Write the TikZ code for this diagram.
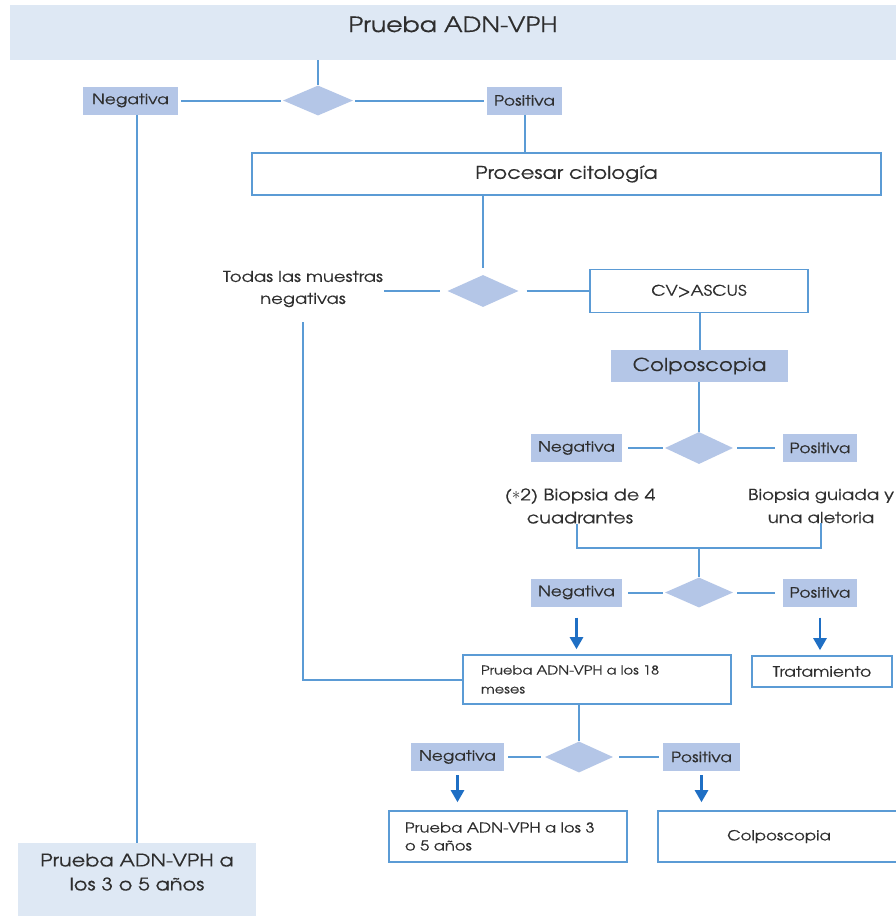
\documentclass[tikz,border=0pt]{standalone}
\usepackage{fontspec}
\setmainfont[FakeStretch=1.2,FakeBold=0.3]{TeX Gyre Adventor}
\usetikzlibrary{shapes.geometric,arrows.meta}
\definecolor{paleblue}{HTML}{DEE8F4}
\definecolor{lblblue}{HTML}{B4C6E7}
\definecolor{lineblue}{HTML}{5B9BD5}
\definecolor{arrblue}{HTML}{1F6FC4}
\definecolor{txt}{HTML}{2E2E2E}
\tikzset{
  lbl/.style={fill=lblblue, minimum height=28pt, inner sep=0pt, text=txt, font=\fontsize{14.2}{16}\selectfont},
  box/.style={draw=lineblue, line width=1.6pt, fill=white, inner sep=0pt, text=txt},
  dia/.style={diamond, fill=lblblue, inner sep=0pt},
  conn/.style={draw=lineblue, line width=2pt},
  arr/.style={draw=arrblue, line width=2.6pt, -{Triangle[width=13pt,length=12pt]}},
  plain/.style={text=txt, align=center, inner sep=0pt}
}
\begin{document}
\begin{tikzpicture}[x=1pt,y=-1pt]
\useasboundingbox (0,0) rectangle (896,916);
\clip (0,0) rectangle (896,916);
\fill[white] (0,0) rectangle (896,916);
% top
\node[fill=paleblue, minimum width=886pt, minimum height=55pt, inner sep=0pt, text=txt,
  font=\fontsize{21}{24}\selectfont, text height=16pt, text depth=17pt] (top) at (453,32.5) {Prueba ADN-VPH};
\node[dia, minimum width=70pt, minimum height=30pt] (d1) at (318,100.5) {};
\node[lbl, minimum width=95pt] (neg1) at (130.5,100.5) {Negativa};
\node[lbl, minimum width=75pt] (pos1) at (524.5,100.5) {Positiva};
\node[box, minimum width=629pt, minimum height=42pt, font=\fontsize{17.5}{20}\selectfont] (proc) at (566.5,174) {Procesar citología};
\node[dia, minimum width=71pt, minimum height=32pt] (d2) at (483,291) {};
\node[plain, font=\fontsize{15}{22}\selectfont] (todas) at (303,289) {Todas las muestras\\negativas};
\node[box, minimum width=218pt, minimum height=43pt, font=\fontsize{14.6}{18}\selectfont] (cv) at (699,291) {CV>ASCUS};
\node[fill=lblblue, minimum width=177pt, minimum height=32pt, inner sep=0pt, text=txt, font=\fontsize{17.8}{22}\selectfont] (colp) at (699.5,366) {Colposcopia};
\node[dia, minimum width=68pt, minimum height=32pt] (d3) at (699,448) {};
\node[lbl, minimum width=91pt] (neg3) at (576.5,448) {Negativa};
\node[lbl, minimum width=74pt] (pos3) at (820,448) {Positiva};
\node[plain, font=\fontsize{16}{23}\selectfont] (biop1) at (580,506) {(\raisebox{1pt}{$\ast$}2) Biopsia de 4\\cuadrantes};
\node[plain, font=\fontsize{15.2}{23}\selectfont] (biop2) at (821,506) {Biopsia guiada y\\una aletoria};
\coordinate (br) at (699,548);
\node[dia, minimum width=68pt, minimum height=30pt] (d4) at (699,592.5) {};
\node[lbl, minimum width=91pt] (neg4) at (576.5,592.5) {Negativa};
\node[lbl, minimum width=74pt] (pos4) at (820,592.5) {Positiva};
\node[box, minimum width=268pt, minimum height=49pt, text width=232pt, align=left, font=\fontsize{12.2}{19}\selectfont] (b18) at (597,679.5) {Prueba ADN-VPH a los 18\\meses};
\node[box, minimum width=140pt, minimum height=31pt, font=\fontsize{14.4}{16}\selectfont] (trat) at (822,671.5) {Tratamiento};
\node[dia, minimum width=68pt, minimum height=31pt] (d5) at (579,757) {};
\node[lbl, minimum width=93pt] (neg5) at (457.5,757) {Negativa};
\node[lbl, minimum width=77pt] (pos5) at (701.5,757) {Positiva};
\node[box, minimum width=238pt, minimum height=51pt, text width=206pt, align=left, font=\fontsize{13.6}{18}\selectfont] (b35) at (508,836.5) {Prueba ADN-VPH a los 3\\o 5 años};
\node[box, minimum width=242pt, minimum height=51pt, font=\fontsize{13.8}{16}\selectfont] (colp2) at (779,836.5) {Colposcopia};
\node[fill=paleblue, minimum width=238pt, minimum height=76pt, inner sep=0pt, text=txt, align=center,
  font=\fontsize{17.4}{24}\selectfont, text depth=18pt] (bl) at (137,881) {Prueba ADN-VPH a\\los 3 o 5 años};
% connectors
\draw[conn] (d1.north |- top.south) -- (d1.north);
\draw[conn, shorten <=3pt, shorten >=2pt] (neg1.east) -- (d1.west);
\draw[conn, shorten <=2pt, shorten >=3pt] (d1.east) -- (pos1.west);
\draw[conn] (bl.north |- neg1.south) -- (bl.north);
\draw[conn] (pos1.south) -- (pos1.south |- proc.north);
\draw[conn, shorten >=7pt] (d2.north |- proc.south) -- (d2.north);
\draw[conn, shorten <=1pt, shorten >=7pt] (todas.east |- d2.west) -- (d2.west);
\draw[conn, shorten <=8pt] (d2.east) -- (cv.west);
\draw[conn] (cv.south -| colp.north) -- (colp.north);
\draw[conn] (d3.north |- colp.south) -- (d3.north);
\draw[conn, shorten <=6pt, shorten >=2pt] (neg3.east) -- (d3.west);
\draw[conn, shorten <=4pt, shorten >=8pt] (d3.east) -- (pos3.west);
\draw[conn] ([xshift=-3pt]biop1.south) -- ([xshift=-3pt]biop1.south |- br) -- (biop2.south |- br) -- (biop2.south);
\draw[conn] (br) -- (d4.north);
\draw[conn, shorten <=6pt, shorten >=2pt] (neg4.east) -- (d4.west);
\draw[conn, shorten <=4pt, shorten >=8pt] (d4.east) -- (pos4.west);
\draw[arr, shorten <=11pt, shorten >=5pt] (neg4.south) -- (neg4.south |- b18.north);
\draw[arr, shorten <=11pt, shorten >=5pt] (pos4.south) -- (pos4.south |- trat.north);
\draw[conn] ([yshift=-15pt]todas.south) |- (b18.west);
\draw[conn] (d5.north |- b18.south) -- (d5.north);
\draw[conn, shorten <=4pt, shorten >=4pt] (neg5.east) -- (d5.west);
\draw[conn, shorten <=6pt, shorten >=4pt] (d5.east) -- (pos5.west);
\draw[arr, shorten <=4pt, shorten >=8pt] (neg5.south) -- (neg5.south |- b35.north);
\draw[arr, shorten <=4pt, shorten >=8pt] (pos5.south) -- (pos5.south |- colp2.north);
\end{tikzpicture}
\end{document}
